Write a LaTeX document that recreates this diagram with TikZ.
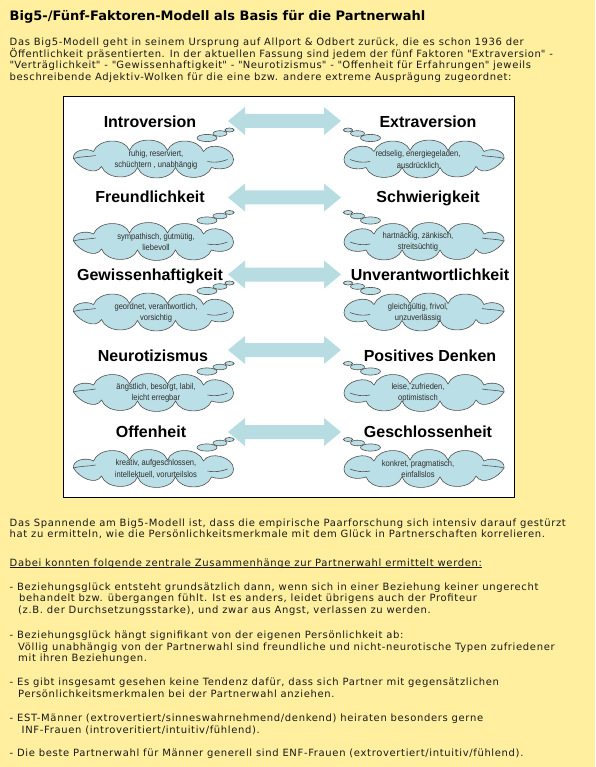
\documentclass[tikz,border=0pt]{standalone}
\usepackage{fontspec}
\setmainfont{DejaVu Sans}[LetterSpace=6.5]
\newfontfamily\titlefont{DejaVu Sans}
\newfontfamily\headfont{Liberation Sans}
\newfontfamily\cloudfont[FakeStretch=0.88]{Liberation Sans}
\newcommand\qq{\textquotedbl}
\definecolor{bgyellow}{RGB}{255,239,158}
\definecolor{arrowblue}{RGB}{183,221,227}
\definecolor{cloudblue}{RGB}{187,223,230}
\definecolor{cloudline}{RGB}{80,80,80}
\definecolor{bodytext}{RGB}{25,25,25}
\definecolor{cloudtext}{RGB}{45,45,45}
\begin{document}
\begin{tikzpicture}[x=1pt,y=-1pt,
  bodyline/.style={anchor=base west,inner sep=0pt,text=bodytext,font=\fontsize{10}{12}\selectfont},
  headline/.style={anchor=base west,inner sep=0pt,text=black,font=\titlefont\bfseries\fontsize{13}{15}\selectfont},
  factor/.style={anchor=base,inner sep=0pt,text=black,font=\headfont\bfseries\fontsize{16}{18}\selectfont},
  cloudlabel/.style={anchor=center,inner sep=0pt,align=center,text=cloudtext,font=\cloudfont\fontsize{8.6}{11.3}\selectfont},
  dblarr/.pic={
    \fill[arrowblue] (-56.5,0) -- (-39.5,-14) -- (-39.5,-7) -- (39.5,-7) -- (39.5,-14)
      -- (56.5,0) -- (39.5,14) -- (39.5,7) -- (-39.5,7) -- (-39.5,14) -- cycle;
  },
  thoughtcloud/.pic={
    \begin{scope}[draw=cloudline,fill=cloudblue,line width=0.6pt]
      \filldraw (-80,0) to[out=100,in=150] (-60,-7)
        to[out=70,in=110] (-24,-8)
        to[out=70,in=110] (14,-8)
        to[out=70,in=110] (50,-7)
        to[out=60,in=90] (80,1)
        to[out=-90,in=-20] (58,9)
        to[out=-110,in=-70] (22,9)
        to[out=-110,in=-70] (-16,9)
        to[out=-110,in=-70] (-52,8)
        to[out=-120,in=-60] cycle;
      \draw (-80,0) to[out=15,in=190] (-58,-3);
      \draw (54,3) to[out=-10,in=200] (74,1);
      \filldraw (53.5,-20.5) ellipse[x radius=10,y radius=3.6];
      \filldraw (66.5,-25) ellipse[x radius=7,y radius=2.8];
      \filldraw (76,-28.5) ellipse[x radius=4.6,y radius=2];
    \end{scope}
  }]
\useasboundingbox (0,0) rectangle (595,767);
\fill[bgyellow] (0,0) rectangle (595,767);

% heading and intro
\node[headline] (title) at (9.5,20.5) {Big5-/Fünf-Faktoren-Modell als Basis für die Partnerwahl};
\node[bodyline] (t1) at (9.5,46) {Das Big5-Modell geht in seinem Ursprung auf Allport \& Odbert zurück, die es schon 1936 der};
\node[bodyline] (t2) at (9.5,57.5) {\addfontfeature{LetterSpace=5.5}Öffentlichkeit präsentierten. In der aktuellen Fassung sind jedem der fünf Faktoren \qq Extraversion\qq\ -};
\node[bodyline] (t3) at (9.5,69) {\qq Verträglichkeit\qq\ - \qq Gewissenhaftigkeit\qq\ - \qq Neurotizismus\qq\ - \qq Offenheit für Erfahrungen\qq\ jeweils};
\node[bodyline] (t4) at (9.5,80.5) {beschreibende Adjektiv-Wolken für die eine bzw. andere extreme Ausprägung zugeordnet:};

% diagram frame
\filldraw[fill=white,draw=black,line width=1pt] (63.5,96.5) rectangle (514.5,497.5);

% arrows
\pic (a1) at (284.5,121) {dblarr};
\pic (a2) at (284.5,197.5) {dblarr};
\pic (a3) at (284.5,274.5) {dblarr};
\pic (a4) at (284.5,350) {dblarr};
\pic (a5) at (284.5,432) {dblarr};

% clouds
\pic (cl1) at (153.5,158.5) {thoughtcloud};
\pic[xscale=-1] (cr1) at (424,158.5) {thoughtcloud};
\pic (cl2) at (153.5,241) {thoughtcloud};
\pic[xscale=-1] (cr2) at (424,241) {thoughtcloud};
\pic (cl3) at (153.5,311.5) {thoughtcloud};
\pic[xscale=-1] (cr3) at (424,311.5) {thoughtcloud};
\pic (cl4) at (153.5,392) {thoughtcloud};
\pic[xscale=-1] (cr4) at (424,392) {thoughtcloud};
\pic (cl5) at (153.5,468) {thoughtcloud};
\pic[xscale=-1] (cr5) at (424,468) {thoughtcloud};

% factor titles
\node[factor] (f1l) at (150,127.5) {Introversion};
\node[factor] (f1r) at (428,127.5) {Extraversion};
\node[factor] (f2l) at (150,203) {Freundlichkeit};
\node[factor] (f2r) at (428,203) {Schwierigkeit};
\node[factor] (f3l) at (150,280.5) {Gewissenhaftigkeit};
\node[factor] (f3r) at (430,280.5) {Unverantwortlichkeit};
\node[factor] (f4l) at (153,361) {Neurotizismus};
\node[factor] (f4r) at (430,361) {Positives Denken};
\node[factor] (f5l) at (151,437.5) {Offenheit};
\node[factor] (f5r) at (428,437.5) {Geschlossenheit};

% cloud texts
\node[cloudlabel] (w1l) at (156,159.5) {ruhig, reserviert,\\schüchtern , unabhängig};
\node[cloudlabel] (w1r) at (418,159.5) {redselig, energiegeladen,\\ausdrücklich};
\node[cloudlabel] (w2l) at (156,242) {sympathisch, gutmütig,\\liebevoll};
\node[cloudlabel] (w2r) at (418,242) {hartnäckig, zänkisch,\\streitsüchtig};
\node[cloudlabel] (w3l) at (156,312.5) {geordnet, verantwortlich,\\vorsichtig};
\node[cloudlabel] (w3r) at (418,312.5) {gleichgültig, frivol,\\unzuverlässig};
\node[cloudlabel] (w4l) at (156,393) {ängstlich, besorgt, labil,\\leicht erregbar};
\node[cloudlabel] (w4r) at (418,393) {leise, zufrieden,\\optimistisch};
\node[cloudlabel] (w5l) at (156,469) {kreativ, aufgeschlossen,\\intellektuell, vorurteilslos};
\node[cloudlabel] (w5r) at (418,469) {konkret, pragmatisch,\\einfallslos};

% lower text
\node[bodyline] (b1) at (9.5,526) {Das Spannende am Big5-Modell ist, dass die empirische Paarforschung sich intensiv darauf gestürzt};
\node[bodyline] (b2) at (9.5,537.5) {hat zu ermitteln, wie die Persönlichkeitsmerkmale mit dem Glück in Partnerschaften korrelieren.};
\node[bodyline] (b3) at (9.5,566) {Dabei konnten folgende zentrale Zusammenhänge zur Partnerwahl ermittelt werden:};
\draw[bodytext,line width=0.8pt] ([yshift=-1.8pt]b3.base west) -- ([yshift=-1.8pt]b3.base east);
\node[bodyline] (b4) at (9.5,590) {- Beziehungsglück entsteht grundsätzlich dann, wenn sich in einer Beziehung keiner ungerecht};
\node[bodyline] (b5) at (19,601.7) {behandelt bzw. übergangen fühlt. Ist es anders, leidet übrigens auch der Profiteur};
\node[bodyline] (b6) at (18,613.5) {(z.B. der Durchsetzungsstarke), und zwar aus Angst, verlassen zu werden.};
\node[bodyline] (b7) at (9.5,638.7) {- Beziehungsglück hängt signifikant von der eigenen Persönlichkeit ab:};
\node[bodyline] (b8) at (18,650.5) {Völlig unabhängig von der Partnerwahl sind freundliche und nicht-neurotische Typen zufriedener};
\node[bodyline] (b9) at (18,661.8) {mit ihren Beziehungen.};
\node[bodyline] (b10) at (9.5,685.5) {- Es gibt insgesamt gesehen keine Tendenz dafür, dass sich Partner mit gegensätzlichen};
\node[bodyline] (b11) at (18,697.7) {Persönlichkeitsmerkmalen bei der Partnerwahl anziehen.};
\node[bodyline] (b12) at (9.5,721) {- EST-Männer (extrovertiert/sinneswahrnehmend/denkend) heiraten besonders gerne};
\node[bodyline] (b13) at (21.5,733.7) {INF-Frauen (introveritiert/intuitiv/fühlend).};
\node[bodyline] (b14) at (9.5,756.8) {- Die beste Partnerwahl für Männer generell sind ENF-Frauen (extrovertiert/intuitiv/fühlend).};
\end{tikzpicture}
\end{document}
